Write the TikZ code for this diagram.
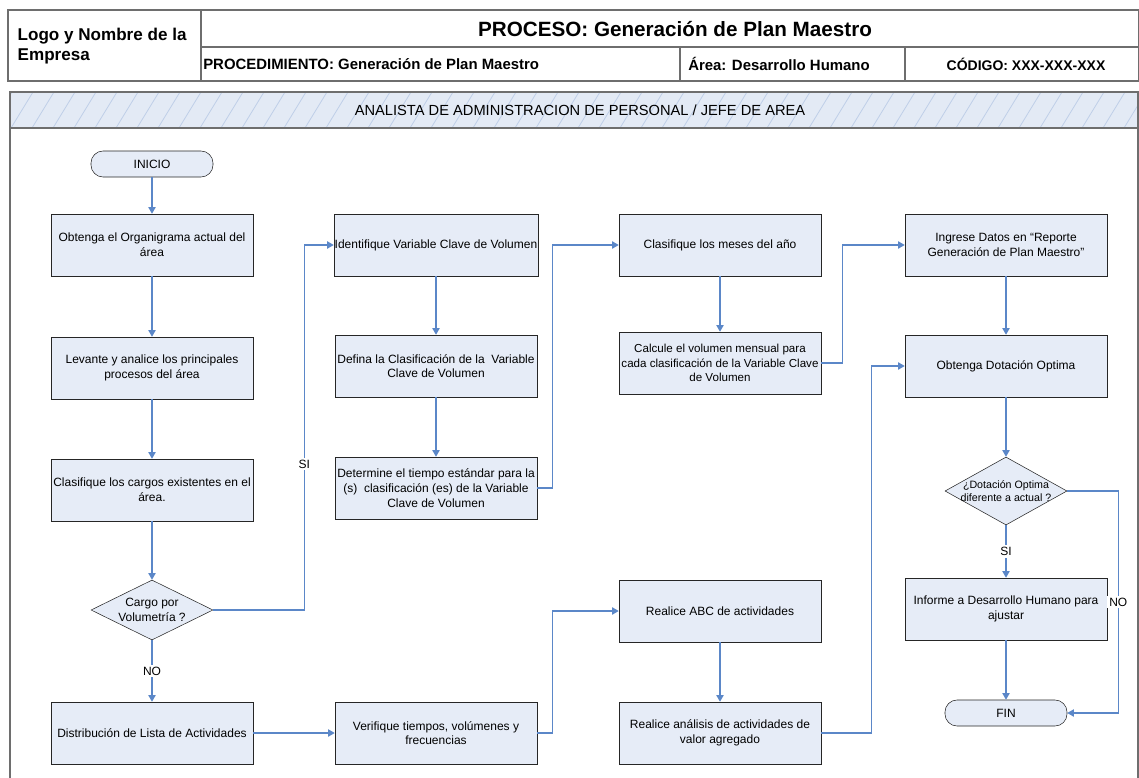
\documentclass[tikz,border=0pt]{standalone}
\usepackage{fontspec}
\setmainfont{Liberation Sans}
\usetikzlibrary{arrows.meta,shapes.geometric}
\definecolor{boxfill}{HTML}{E6ECF7}
\definecolor{linecol}{HTML}{5B87C8}
\definecolor{hdrfill}{HTML}{E3EAF5}
\definecolor{stripecol}{HTML}{BFCFE8}
\definecolor{framecol}{HTML}{6E6E6E}
\begin{document}
\begin{tikzpicture}[x=0.75pt,y=-0.75pt,
  proc/.style={draw=black!85, fill=boxfill, minimum width=151.5pt, minimum height=46.5pt,
    align=center, font=\fontsize{9}{11}\selectfont, inner sep=0.5pt},
  term/.style={draw=black!85, fill=boxfill, rounded corners=9pt, minimum width=91.5pt,
    minimum height=19.5pt, font=\fontsize{9}{11}\selectfont},
  dec/.style={diamond, draw=black!85, fill=boxfill, minimum width=91.5pt, minimum height=45pt, inner sep=0pt},
  flow/.style={draw=linecol, line width=0.9pt, -{Triangle[length=5pt,width=5.5pt]}},
  lbl/.style={fill=white, inner sep=1.5pt, font=\fontsize{9}{11}\selectfont},
  frame/.style={draw=framecol, line width=1pt},
  hdr/.style={font=\fontsize{11.2}{13}\selectfont\bfseries, inner sep=0pt}
]
\useasboundingbox (0,0) rectangle (1139,778);

% ---------- header ----------
\draw[frame] (8,10) rectangle (1139,81);
\draw[frame] (201,10) -- (201,81);
\draw[frame] (201,47) -- (1139,47);
\draw[frame] (680,47) -- (680,81);
\draw[frame] (905,47) -- (905,81);
\node[font=\fontsize{12.8}{15}\selectfont\bfseries, align=left, anchor=west] (logo) at (13,46) {Logo y Nombre de la\\Empresa};
\node[font=\fontsize{15.5}{18}\selectfont\bfseries] (proceso) at (675,29) {PROCESO: Generación de Plan Maestro};
\node[hdr, anchor=west] (procedimiento) at (203,64) {PROCEDIMIENTO: Generación de Plan Maestro};
\node[hdr, anchor=west] (area) at (688,64) {Área: Desarrollo Humano};
\node[hdr, font=\fontsize{10.5}{13}\selectfont\bfseries] (codigo) at (1026,64) {CÓDIGO: XXX-XXX-XXX};

% ---------- lane ----------
\fill[hdrfill] (10,92) rectangle (1138,128);
\begin{scope}
  \clip (10,92) rectangle (1138,128);
  \foreach \i in {0,...,55} \draw[stripecol, line width=0.6pt] (\i*21-10,128) -- ++(22,-36);
\end{scope}
\draw[frame] (10,778) -- (10,92) -- (1138,92) -- (1138,778);
\draw[frame] (10,128) -- (1138,128);
\node[font=\fontsize{11}{13}\selectfont] (lane) at (580,110) {ANALISTA DE ADMINISTRACION DE PERSONAL / JEFE DE AREA};

% ---------- column 1 ----------
\node[term] (inicio) at (152,164) {INICIO};
\node[proc] (org) at (152,245) {Obtenga el Organigrama actual del\\área};
\node[proc] (lev) at (152,368) {Levante y analice los principales\\procesos del área};
\node[proc] (cla) at (152,490) {Clasifique los cargos existentes en el\\área.};
\node[dec, label={[align=center, font=\fontsize{9}{11}\selectfont]center:Cargo por\\Volumetría ?}] (d1) at (152,610) {};
\node[proc] (dis) at (152,733) {Distribución de Lista de Actividades};

% ---------- column 2 ----------
\node[proc] (ide) at (436,245) {Identifique Variable Clave de Volumen};
\node[proc] (def) at (436,366) {Defina la Clasificación de la\ \ Variable\\Clave de Volumen};
\node[proc] (det) at (436,488) {Determine el tiempo estándar para la\\(s)\ \ clasificación (es) de la Variable\\Clave de Volumen};
\node[proc] (ver) at (436,733) {Verifique tiempos, volúmenes y\\frecuencias};

% ---------- column 3 ----------
\node[proc] (mes) at (720,245) {Clasifique los meses del año};
\node[proc, font=\fontsize{8.7}{11}\selectfont] (cal) at (720,363) {Calcule el volumen mensual para\\cada clasificación de la Variable Clave\\de Volumen};
\node[proc] (abc) at (720,611) {Realice ABC de actividades};
\node[proc] (ana) at (720,733) {Realice análisis de actividades de\\valor agregado};

% ---------- column 4 ----------
\node[proc] (ing) at (1006,245) {Ingrese Datos en “Reporte\\Generación de Plan Maestro”};
\node[proc] (obt) at (1006,366) {Obtenga Dotación Optima};
\node[dec, minimum height=51pt, label={[align=center, font=\fontsize{8}{9.5}\selectfont]center:¿Dotación Optima\\diferente a actual ?}] (d2) at (1006,491) {};
\node[proc] (inf) at (1006,609) {Informe a Desarrollo Humano para\\ajustar};
\node[term] (fin) at (1006,713) {FIN};

% ---------- connectors ----------
\draw[flow] (inicio) -- (org);
\draw[flow] (org) -- (lev);
\draw[flow] (lev) -- (cla);
\draw[flow] (cla) -- (d1);
\draw[flow] (d1.south) -- node[lbl]{NO} (dis.north);
\draw[flow] (d1.east) -- ++(91,0) |- node[lbl, pos=0.2]{SI} (ide.west);
\draw[flow] (ide) -- (def);
\draw[flow] (def) -- (det);
\draw[flow] (det.east) -- ++(15,0) |- (mes.west);
\draw[flow] (mes) -- (cal);
\draw[flow] (cal.east) -- ++(21,0) |- (ing.west);
\draw[flow] (ing) -- (obt);
\draw[flow] (obt) -- (d2);
\draw[flow] (d2.south) -- node[lbl]{SI} (inf.north);
\draw[flow] (d2.east) -- ++(51,0) |- node[lbl, pos=0.25]{NO} (fin.east);
\draw[flow] (inf) -- (fin);
\draw[flow] (dis) -- (ver);
\draw[flow] (ver.east) -- ++(15,0) |- (abc.west);
\draw[flow] (abc) -- (ana);
\draw[flow] (ana.east) -- ++(50,0) |- (obt.west);
\end{tikzpicture}
\end{document}
